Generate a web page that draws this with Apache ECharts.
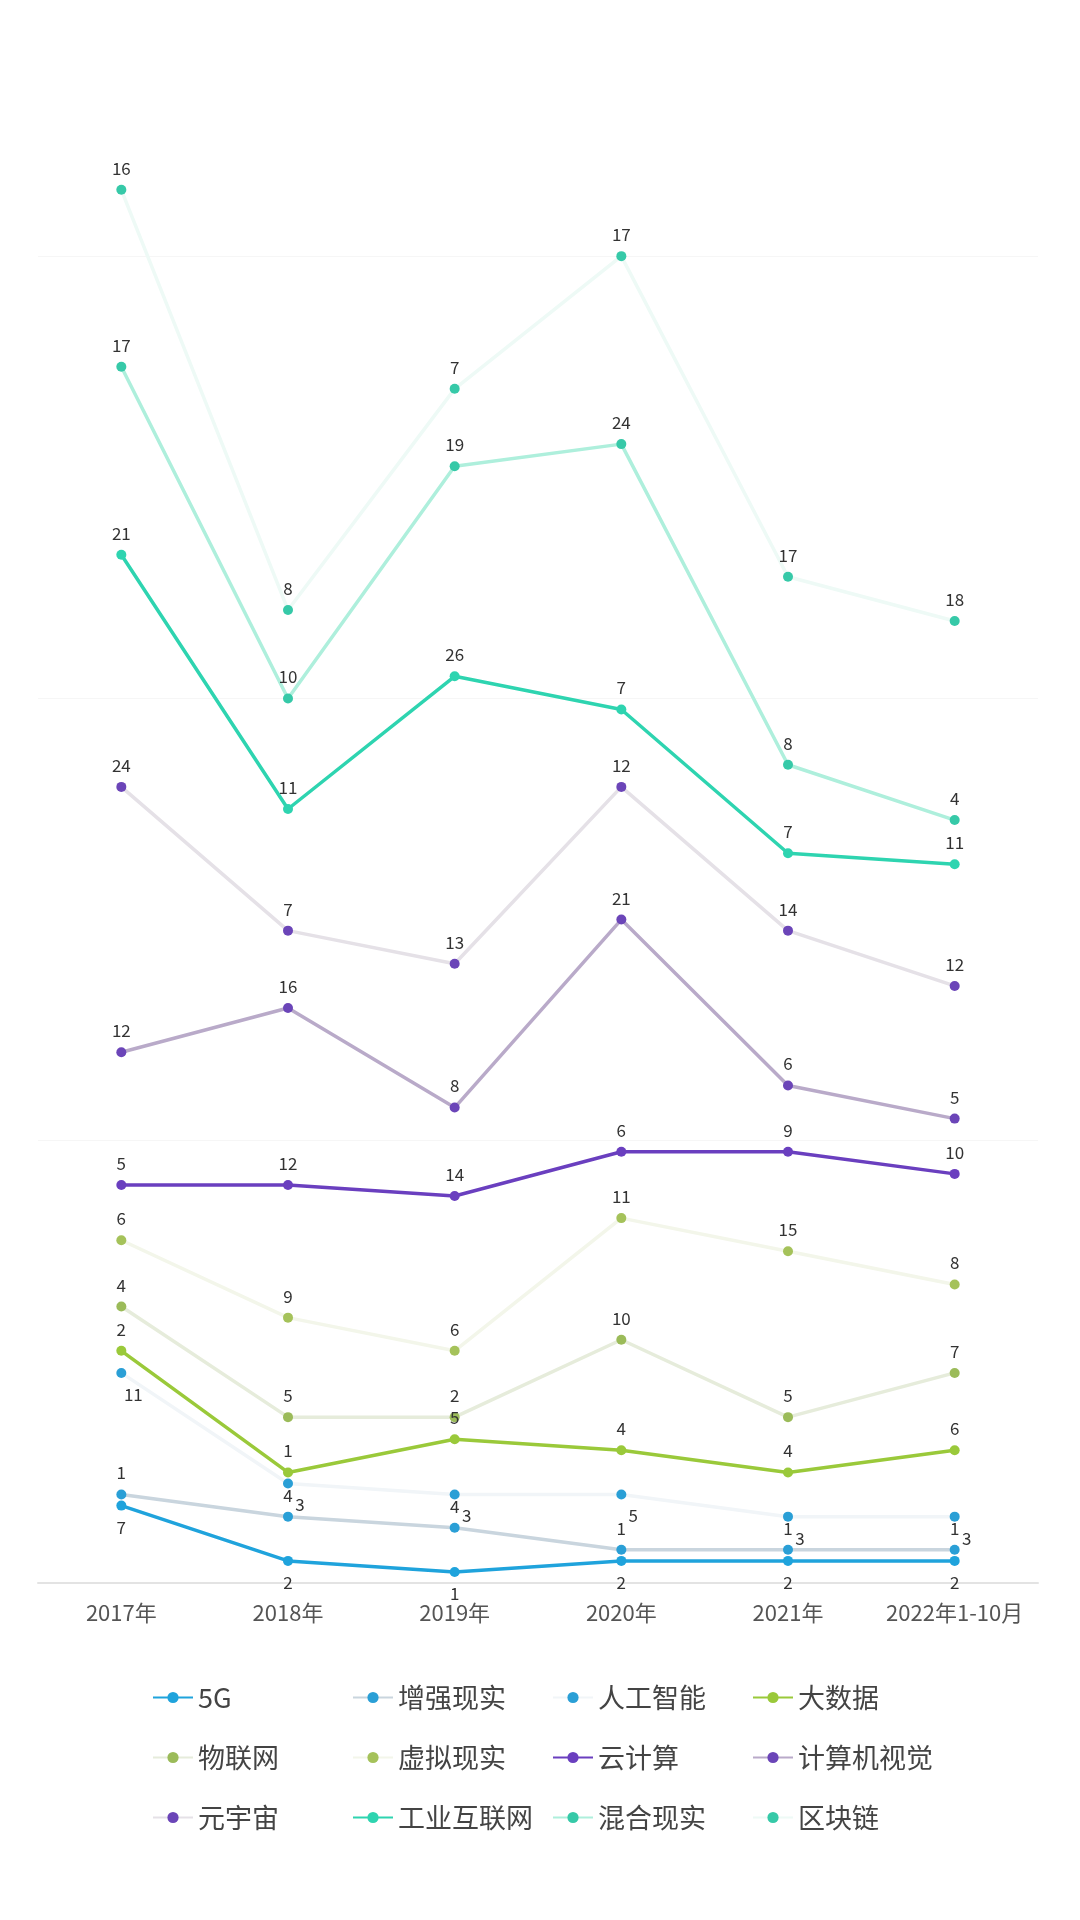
<!DOCTYPE html>
<html>
<head>
<meta charset="utf-8">
<script src="https://cdn.jsdelivr.net/npm/echarts@6/dist/echarts.min.js"></script>
<style>
    html, body { margin: 0; padding: 0; background: #fff; }
    #chart { width: 1080px; height: 1920px; }
</style>
</head>
<body>
<div id="chart"></div>
<script>
const years = ['2017年', '2018年', '2019年', '2020年', '2021年', '2022年1-10月']

const names = ['5G', '增强现实', '人工智能', '大数据', '物联网', '虚拟现实', '云计算', '计算机视觉', '元宇宙', '工业互联网', '混合现实', '区块链']

const v5G = [7, 2, 1, 2, 2, 2]
const vAR = [1, 4, 4, 1, 1, 1]
const vAI = [11, 3, 3, 5, 3, 3]
const vBigData = [2, 1, 5, 4, 4, 6]
const vIoT = [4, 5, 2, 10, 5, 7]
const vVR = [6, 9, 6, 11, 15, 8]
const vCloud = [5, 12, 14, 6, 9, 10]
const vCV = [12, 16, 8, 21, 6, 5]
const vMeta = [24, 7, 13, 12, 14, 12]
const vIIoT = [21, 11, 26, 7, 7, 11]
const vMR = [17, 10, 19, 24, 8, 4]
const vChain = [16, 8, 7, 17, 17, 18]

const values = [v5G, vAR, vAI, vBigData, vIoT, vVR, vCloud, vCV, vMeta, vIIoT, vMR, vChain]

// 点的颜色 / 线的颜色
const dotColors = ['#1fa3dc', '#2a9fd6', '#2a9fd6', '#9ac93a', '#9bbb59', '#a5c25a', '#6a3fbf', '#6b45b8', '#6b45b8', '#2ed4b0', '#36c9a8', '#36c9a8']
const lineColors = ['#1fa3dc', '#c9d5de', '#f1f5f8', '#9ac93a', '#e6ecdb', '#f3f6ea', '#6a3fbf', '#b9aac9', '#e5e1e7', '#2ed4b0', '#aeefdc', '#eefaf6']

const chart = echarts.init(document.getElementById('chart'))

const series = names.map((name, i) => {
    let label = { show: true, position: 'top', distance: 8, color: '#333', fontSize: 17 }
    if (name === '5G') {
        label.position = 'bottom'
    } else if (name === '人工智能') {
        label.position = 'bottom'
        label.offset = [12, 0]
    }
    return {
        name: name,
        type: 'line',
        stack: 'total',
        data: values[i],
        symbol: 'circle',
        symbolSize: 10,
        itemStyle: { color: dotColors[i] },
        lineStyle: { color: lineColors[i], width: 3.5 },
        label: label
    }
})

// 四列图例
const columns = [
    ['5G', '物联网', '元宇宙'],
    ['增强现实', '虚拟现实', '工业互联网'],
    ['人工智能', '云计算', '混合现实'],
    ['大数据', '计算机视觉', '区块链']
]
const legends = columns.map((col, i) => ({
    data: col,
    orient: 'vertical',
    left: 147 + i * 200,
    top: 1678,
    itemWidth: 40,
    itemHeight: 14,
    itemGap: 31,
    textStyle: { fontSize: 27, color: '#444', lineHeight: 29 }
}))

const option = {
    backgroundColor: '#fff',
    textStyle: { fontFamily: '"Noto Sans CJK SC", "Noto Sans", sans-serif' },
    animation: false,
    grid: {
        left: 38,
        right: 42,
        top: 35,
        bottom: 337
    },
    legend: legends,
    xAxis: {
        type: 'category',
        data: years,
        boundaryGap: true,
        axisTick: { show: false },
        axisLine: { lineStyle: { color: '#e3e3e3', width: 2 } },
        axisLabel: { color: '#555', fontSize: 22, margin: 19, interval: 0 }
    },
    yAxis: {
        type: 'value',
        min: 0,
        max: 140,
        interval: 40,
        axisLabel: { show: false },
        axisLine: { show: false },
        axisTick: { show: false },
        splitLine: { showMaxLine: false, lineStyle: { color: '#f6f6f6' } }
    },
    series: series
}

chart.setOption(option)
</script>
</body>
</html>
